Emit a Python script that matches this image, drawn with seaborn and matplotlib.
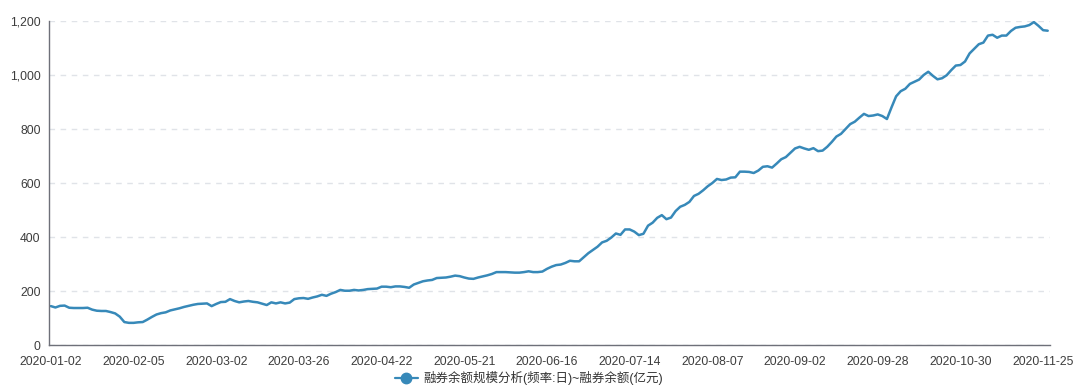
import numpy as np
import pandas as pd
import matplotlib
matplotlib.use("Agg")
import matplotlib.pyplot as plt
from matplotlib.lines import Line2D
from matplotlib.ticker import FuncFormatter
import seaborn as sns

# trading-day calendar (Shanghai/Shenzhen, 2020)
start_date = "2020-01-02"
end_date = "2020-11-26"
holidays = ["2020-01-01", "2020-01-24", "2020-01-27", "2020-01-28", "2020-01-29",
            "2020-01-30", "2020-01-31", "2020-04-06", "2020-05-01", "2020-05-04",
            "2020-05-05", "2020-06-25", "2020-06-26", "2020-10-01", "2020-10-02",
            "2020-10-05", "2020-10-06", "2020-10-07", "2020-10-08"]

# 融券余额 (亿元)
balance = [
    144, 139, 145, 146, 138, 137, 137, 137, 138, 131,
    127, 126, 126, 122, 117, 105, 85, 82, 82, 84,
    85, 94, 104, 113, 118, 121, 128, 132, 136, 141,
    145, 149, 152, 153, 154, 144, 152, 159, 160, 170,
    163, 158, 161, 163, 160, 158, 153, 148, 158, 154,
    158, 154, 157, 170, 173, 174, 171, 176, 180, 186,
    182, 190, 196, 204, 201, 201, 204, 202, 204, 207,
    208, 209, 216, 216, 214, 217, 217, 215, 212, 224,
    230, 236, 239, 241, 248, 249, 250, 253, 257, 255,
    250, 246, 245, 250, 254, 258, 263, 270, 270, 270,
    269, 268, 268, 270, 273, 270, 270, 272, 282, 290,
    296, 298, 304, 312, 310, 310, 325, 340, 352, 364,
    380, 386, 398, 413, 408, 428, 428, 420, 407, 412,
    442, 453, 471, 481, 466, 472, 496, 512, 519, 530,
    552, 560, 573, 588, 600, 615, 611, 613, 620, 621,
    642, 642, 641, 637, 646, 660, 662, 657, 672, 688,
    696, 712, 728, 734, 728, 723, 729, 718, 720, 734,
    752, 772, 782, 800, 818, 827, 842, 856, 848, 850,
    854, 848, 837, 880, 921, 940, 949, 967, 975, 983,
    1000, 1012, 997, 984, 988, 999, 1018, 1035, 1037, 1050,
    1080, 1097, 1114, 1120, 1146, 1149, 1138, 1146, 1146, 1163,
    1175, 1178, 1180, 1185, 1196, 1182, 1166, 1164,
]

yticks = [0, 200, 400, 600, 800, 1000, 1200]
label_every = 18
series_name = "融券余额规模分析(频率:日)~融券余额(亿元)"

days = pd.bdate_range(start_date, end_date)
days = days[~days.isin(pd.to_datetime(holidays))]
dates = days.strftime("%Y-%m-%d").tolist()
df = pd.DataFrame({"idx": np.arange(len(balance)), "date": dates[:len(balance)], "value": balance})

sns.set_style("white")
plt.rcParams["font.family"] = ["Liberation Sans", "Noto Sans CJK SC", "DejaVu Sans"]

line_color = "#3789b9"
axis_color = "#6e7079"

fig = plt.figure(figsize=(10.8, 3.86), dpi=100)
ax = fig.add_axes([49 / 1080, 1 - 345 / 386, 1001 / 1080, 324 / 386])

sns.lineplot(data=df, x="idx", y="value", ax=ax, color=line_color, linewidth=1.8)

ax.set_xlim(-0.4, 217.5)
ax.set_ylim(0, 1200)
ax.set_yticks(yticks)
ax.yaxis.set_major_formatter(FuncFormatter(lambda v, p: f"{int(v):,}"))
ax.grid(axis="y", color="#e0e3e8", linestyle=(0, (4, 4)), linewidth=1)
ax.set_axisbelow(True)

label_pos = list(range(0, len(df), label_every))
ax.set_xticks(label_pos)
ax.set_xticklabels([df["date"][i] for i in label_pos])
ax.set_xticks([p + label_every / 2 for p in label_pos if p + label_every / 2 < len(df)], minor=True)
ax.tick_params(axis="x", which="major", length=0, pad=8, labelsize=8.7, labelcolor="#3d3d3d")
ax.tick_params(axis="x", which="minor", length=5, width=1, color=axis_color, direction="out")
ax.tick_params(axis="y", length=0, pad=6, labelsize=8.7, labelcolor="#3d3d3d")

ax.set_xlabel("")
ax.set_ylabel("")
for side in ["top", "right"]:
    ax.spines[side].set_visible(False)
for side in ["left", "bottom"]:
    ax.spines[side].set_color(axis_color)
    ax.spines[side].set_linewidth(1)

handle = Line2D([], [], color=line_color, linewidth=1.6, marker="o", markersize=7.5)
fig.legend([handle], [series_name], loc="center", bbox_to_anchor=(529 / 1080, 1 - 378 / 386),
           frameon=False, fontsize=9, handlelength=1.8, handletextpad=0.45,
           labelcolor="#333333")

fig.savefig("out.png", dpi=100)
